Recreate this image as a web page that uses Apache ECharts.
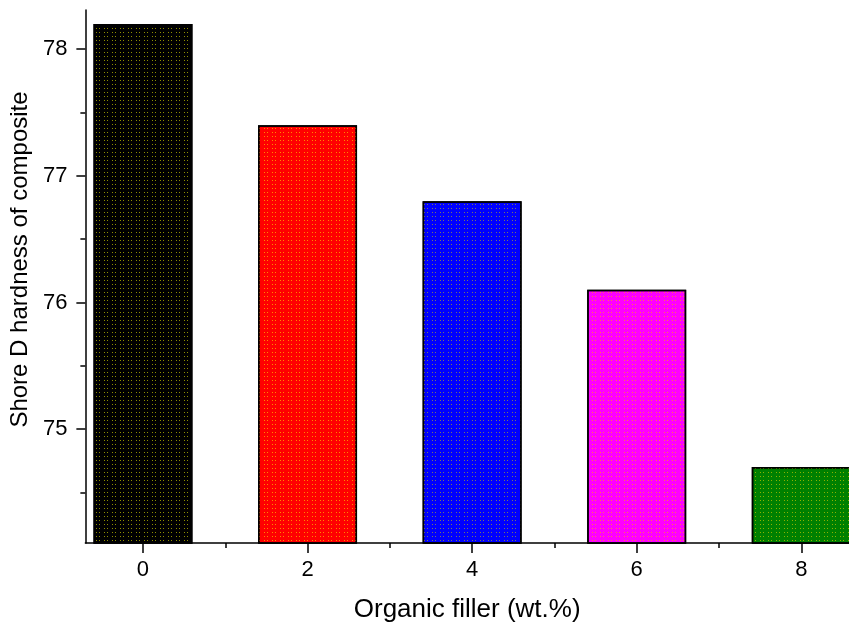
<html lang="en">
<head>
  <meta charset="UTF-8">
  <title>shore D hardness</title>
  <style>
    html, body { margin: 0; padding: 0; background: #fff; }
    #chart { width: 849px; height: 631px; }
  </style>
</head>
<body>
  <div id="chart"></div>
  <script src="https://cdn.jsdelivr.net/npm/echarts@6/dist/echarts.min.js"></script>
  <script>
    // data
    var fillerPct = [0, 2, 4, 6, 8]
    var hardness = [78.2, 77.4, 76.8, 76.1, 74.7]
    var barColors = ['#000000', '#ff0000', '#0000ff', '#ff00ff', '#008000']
    var dotColors = ['rgba(190,190,0,0.75)', 'rgba(255,170,0,0.8)', 'rgba(150,150,60,0.8)', 'rgba(255,170,0,0.7)', 'rgba(200,200,0,0.7)']
    var xMajor = [0, 2, 4, 6, 8]
    var xMinor = [1, 3, 5, 7]
    var yMajor = [75, 76, 77, 78]
    var yMinor = [74.5, 75.5, 76.5, 77.5]

    var xMin = -0.7, xMax = 8.58
    var yMin = 74.1, yMax = 78.31

    var font = 'Liberation Sans, Arial, sans-serif'
    var lineStyle = { color: '#000', width: 1.5 }

    var barData = fillerPct.map(function (x, i) {
      return {
        value: [x, hardness[i]],
        itemStyle: {
          color: barColors[i],
          borderColor: '#000',
          borderWidth: 1.5,
          decal: {
            symbol: 'rect',
            symbolSize: 1,
            color: dotColors[i],
            dashArrayX: [[1, 2, 1, 4]],
            dashArrayY: [1, 3],
            rotation: 0
          }
        }
      }
    })

    function xAxisOf(values, len, main) {
      return {
        type: 'value', position: 'bottom', min: xMin, max: xMax,
        name: main ? 'Organic filler (wt.%)' : '',
        nameLocation: 'middle', nameGap: 54,
        nameTextStyle: { fontFamily: font, fontSize: 26, color: '#000' },
        axisLine: { show: main, onZero: false, lineStyle: lineStyle },
        axisTick: { show: true, customValues: values, length: len, lineStyle: lineStyle },
        axisLabel: { show: main, customValues: values, margin: 16, fontFamily: font, fontSize: 22, color: '#000' },
        splitLine: { show: false }
      }
    }
    function yAxisOf(values, len, main) {
      return {
        type: 'value', position: 'left', min: yMin, max: yMax,
        name: main ? 'Shore D hardness of composite' : '',
        nameLocation: 'middle', nameGap: 51,
        nameTextStyle: { fontFamily: font, fontSize: 24, color: '#000', padding: [0, 0, 0, 34] },
        axisLine: { show: main, onZero: false, lineStyle: lineStyle },
        axisTick: { show: true, customValues: values, length: len, lineStyle: lineStyle },
        axisLabel: { show: main, customValues: values, margin: 18, fontFamily: font, fontSize: 22, color: '#000' },
        splitLine: { show: false }
      }
    }

    var option = {
      animation: false,
      grid: { left: 85, right: 0, top: 10, bottom: 88 },
      xAxis: [xAxisOf(xMajor, 10, true), xAxisOf(xMinor, 5, false)],
      yAxis: [yAxisOf(yMajor, 9, true), yAxisOf(yMinor, 5, false)],
      series: [{
        type: 'bar',
        xAxisIndex: 0,
        yAxisIndex: 0,
        barWidth: 99,
        data: barData
      }]
    }

    var chart = echarts.init(document.getElementById('chart'))
    chart.setOption(option)
  </script>
</body>
</html>
